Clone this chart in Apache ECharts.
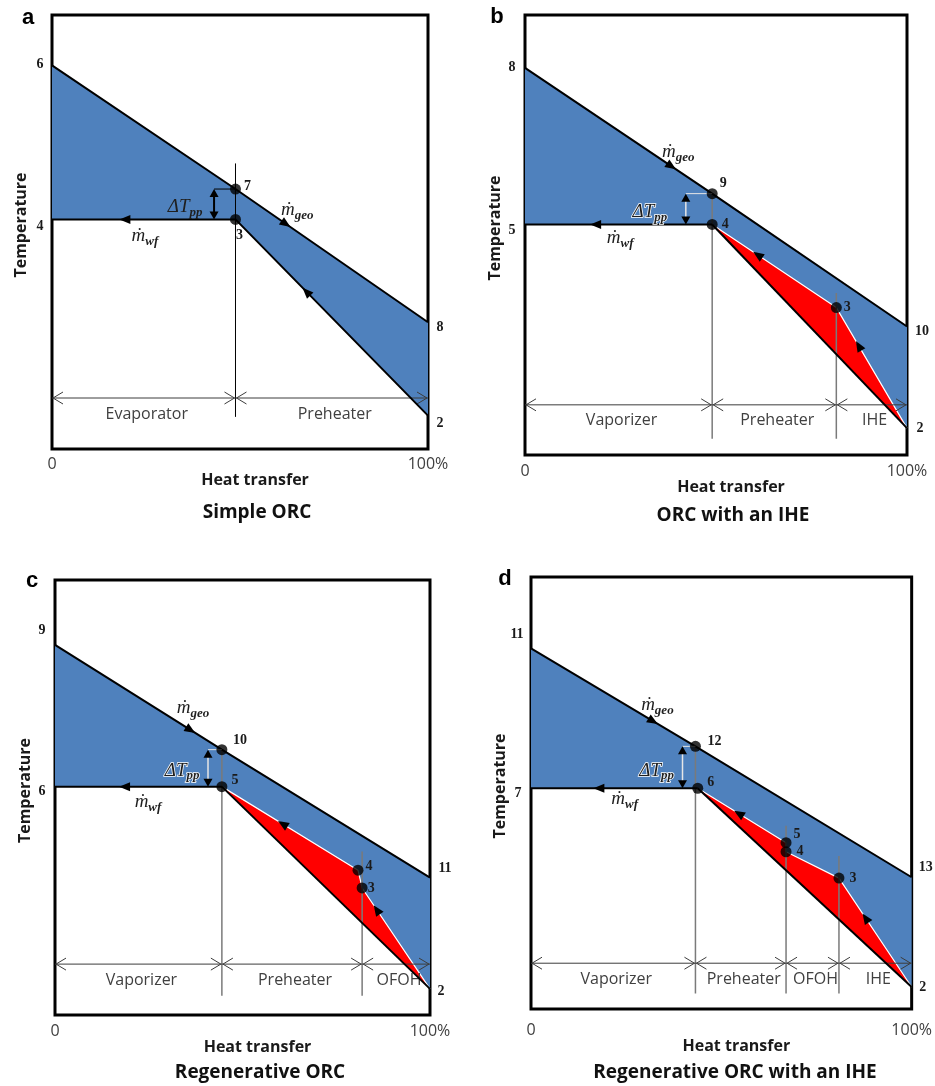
<!DOCTYPE html>
<html><head><meta charset="utf-8">
<script src="https://cdn.jsdelivr.net/npm/echarts@6/dist/echarts.min.js"></script>
<style>html,body{margin:0;padding:0;background:#fff}#c{width:935px;height:1086px}</style>
</head><body><div id="c"></div>
<script>
// ---------- DATA ----------
const panelLetters = ['a', 'b', 'c', 'd'];
const panelTitles = ['Simple ORC', 'ORC with an IHE', 'Regenerative ORC', 'Regenerative ORC with an IHE'];
const xTickLabels = ['0', '100%'];
const axisNames = ['Heat transfer', 'Temperature'];

// Panel a: Simple ORC
const geoA = [[0, 88.4], [48.8, 59.9], [100, 29.2]];
const geoNamesA = ['6', '7', '8'];
const wfA = [[0, 52.9], [48.8, 52.9], [100, 7.7]];
const wfNamesA = ['4', '3', '2'];
const sectionBoundsA = [0, 48.8, 100];
const sectionNamesA = ['Evaporator', 'Preheater'];
const dividerTopsA = [65.8];

// Panel b: ORC with an IHE
const geoB = [[0, 88.0], [49, 59.4], [100, 29.2]];
const geoNamesB = ['8', '9', '10'];
const wfB = [[0, 52.4], [49, 52.4], [81.5, 33.5], [100, 6.1]];
const wfNamesB = ['5', '4', '3', '2'];
const sectionBoundsB = [0, 49, 81.5, 100];
const sectionNamesB = ['Vaporizer', 'Preheater', 'IHE'];
const dividerTopsB = [59.4, 36.8];

// Panel c: Regenerative ORC
const geoC = [[0, 85.1], [44.5, 61.0], [100, 31.6]];
const geoNamesC = ['9', '10', '11'];
const wfC = [[0, 52.5], [44.5, 52.5], [80.8, 33.3], [81.9, 29.2], [100, 6.0]];
const wfNamesC = ['6', '5', '4', '3', '2'];
const sectionBoundsC = [0, 44.5, 81.9, 100];
const sectionNamesC = ['Vaporizer', 'Preheater', 'OFOH'];
const dividerTopsC = [61.0, 37.6];

// Panel d: Regenerative ORC with an IHE
const geoD = [[0, 83.5], [43.2, 60.8], [100, 30.5]];
const geoNamesD = ['11', '12', '13'];
const wfD = [[0, 51.1], [43.8, 51.1], [67, 38.5], [67, 36.4], [80.9, 30.3], [100, 5.1]];
const wfNamesD = ['7', '6', '5', '4', '3', '2'];
const sectionBoundsD = [0, 43.2, 67, 80.9, 100];
const sectionNamesD = ['Vaporizer', 'Preheater', 'OFOH', 'IHE'];
const dividerTopsD = [60.8, 42.4, 35.4];

// Flow direction arrows: [from point, to point, fraction along]
const flowsA = [[wfA[1], wfA[0], 0.6], [geoA[1], geoA[2], 0.26], [wfA[2], wfA[1], 0.63]];
const flowsB = [[wfB[1], wfB[0], 0.62], [geoB[0], geoB[1], 0.78], [wfB[2], wfB[1], 0.63], [wfB[3], wfB[2], 0.68]];
const flowsC = [[wfC[1], wfC[0], 0.58], [geoC[0], geoC[1], 0.81], [wfC[2], wfC[1], 0.55], [wfC[4], wfC[3], 0.78]];
const flowsD = [[wfD[1], wfD[0], 0.59], [geoD[0], geoD[1], 0.74], [wfD[2], wfD[1], 0.53], [wfD[5], wfD[4], 0.63]];

// ---------- LAYOUT ----------
const panels = [
  {geo: geoA, geoNames: geoNamesA, wf: wfA, wfNames: wfNamesA, bounds: sectionBoundsA, secNames: sectionNamesA, divTops: dividerTopsA, flows: flowsA, red: false},
  {geo: geoB, geoNames: geoNamesB, wf: wfB, wfNames: wfNamesB, bounds: sectionBoundsB, secNames: sectionNamesB, divTops: dividerTopsB, flows: flowsB, red: true},
  {geo: geoC, geoNames: geoNamesC, wf: wfC, wfNames: wfNamesC, bounds: sectionBoundsC, secNames: sectionNamesC, divTops: dividerTopsC, flows: flowsC, red: true},
  {geo: geoD, geoNames: geoNamesD, wf: wfD, wfNames: wfNamesD, bounds: sectionBoundsD, secNames: sectionNamesD, divTops: dividerTopsD, flows: flowsD, red: true}
];
const layout = [
  {g: [52, 15, 376, 434], spanY: 11.75, divBottom: 7.4, dtX: 43.1, mGeo: [65.2, 55.1], mWf: [24.7, 49.1], dT: [35.4, 55.8],
   letter: [28, 18], title: [257, 513], lblMargin: 7, nameGap: 15, tempGap: 23,
   offs: {'6': [-12, -1], '7': [12, -3], '8': [12, 5], '4': [-12, 7], '3': [4, 16], '2': [12, 8]}},
  {g: [525, 15, 382, 440], spanY: 11.4, divBottom: 3.7, dtX: 42.1, mGeo: [40.1, 68.9], mWf: [24.9, 49.3], dT: [32.7, 55.2],
   letter: [497, 17], title: [733, 516], lblMargin: 8, nameGap: 18, tempGap: 22,
   offs: {'8': [-13, 0], '9': [11, -10], '10': [15, 5], '5': [-13, 6], '4': [13, 0], '3': [11, 0], '2': [13, 0]}},
  {g: [55, 580, 375, 435], spanY: 11.7, divBottom: 4.4, dtX: 40.8, mGeo: [36.8, 70.6], mWf: [24.8, 49.0], dT: [33.9, 56.2],
   letter: [32, 581], title: [260, 1073], lblMargin: 8, nameGap: 16, tempGap: 22,
   offs: {'9': [-13, -14], '10': [18, -9], '11': [15, -9], '6': [-13, 5], '5': [13, -6], '4': [11, -4], '3': [9, 0], '2': [11, 2]}},
  {g: [531, 577, 382, 432], spanY: 10.6, divBottom: 3.6, dtX: 39.8, mGeo: [33.2, 70.4], mWf: [24.6, 48.5], dT: [33.0, 55.2],
   letter: [505, 579], title: [735, 1073], lblMargin: 13, nameGap: 21, tempGap: 23,
   offs: {'11': [-14, -14], '12': [19, -5], '13': [14, -10], '7': [-13, 5], '6': [13, -6], '5': [11, -8], '4': [14, 0], '3': [14, 0], '2': [11, 0]}}
];

const BLUE = '#4F81BD', RED = '#FF0000';
const SERIF = '"Liberation Serif","DejaVu Serif",serif';
const SANS = '"Open Sans","DejaVu Sans",sans-serif';

// ---------- BUILD ----------
const grids = [], xAxes = [], yAxes = [], series = [], graphics = [];

function base(i, z) { return {xAxisIndex: i, yAxisIndex: i, z: z, silent: true, animation: false}; }

function polygon(i, pts, color, z) {
  return Object.assign(base(i, z), {
    type: 'custom', data: pts,
    renderItem: (params, api) => params.dataIndex !== 0 ? null :
      {type: 'polygon', shape: {points: pts.map(p => api.coord(p))}, style: {fill: color}}
  });
}
function line(i, pts, color, width, z) {
  return Object.assign(base(i, z), {type: 'line', data: pts, symbol: 'none', lineStyle: {color: color, width: width}});
}

panels.forEach((P, i) => {
  const L = layout[i];
  grids.push({left: L.g[0], top: L.g[1], width: L.g[2], height: L.g[3], show: true, borderColor: '#000', borderWidth: 3, backgroundColor: 'transparent'});
  xAxes.push({type: 'value', gridIndex: i, min: 0, max: 100, interval: 100,
    axisLine: {show: false}, axisTick: {show: false}, splitLine: {show: false},
    axisLabel: {margin: L.lblMargin, color: '#404040', fontFamily: SANS, fontSize: 16, formatter: v => v === 0 ? xTickLabels[0] : xTickLabels[1]},
    name: axisNames[0], nameLocation: 'middle', nameGap: L.nameGap,
    nameTextStyle: {fontFamily: SANS, fontWeight: 'bold', fontSize: 16, color: '#1a1a1a', padding: [0, 0, 0, 30]}});
  yAxes.push({type: 'value', gridIndex: i, min: 0, max: 100,
    axisLine: {show: false}, axisTick: {show: false}, splitLine: {show: false}, axisLabel: {show: false},
    name: axisNames[1], nameLocation: 'middle', nameGap: L.tempGap,
    nameTextStyle: {fontFamily: SANS, fontWeight: 'bold', fontSize: 16, color: '#1a1a1a', padding: [0, 0, 0, 14]}});

  const geo = P.geo, wf = P.wf, n = wf.length;
  // blue region between geo and working-fluid curve
  series.push(polygon(i, geo.concat(wf.slice().reverse()), BLUE, 1));
  // red region (recuperated / regenerated heat)
  if (P.red) {
    series.push(polygon(i, wf.slice(1), RED, 2));
    series.push(line(i, wf.slice(1), '#ffffff', 1.2, 3));
  }
  // dividers
  P.divTops.forEach((top, k) => {
    const x = P.bounds[k + 1];
    series.push(line(i, [[x, top], [x, L.divBottom]], i === 0 ? '#000' : '#7a7a7a', i === 0 ? 1 : 1.5, 4));
  });
  // section span arrows + names
  const segs = P.secNames.map((nm, k) => [P.bounds[k], P.bounds[k + 1]]);
  series.push(Object.assign(base(i, 5), {
    type: 'custom', data: segs.map(s => [s[0], L.spanY, s[1]]),
    renderItem: (params, api) => {
      const s = segs[params.dataIndex];
      const p0 = api.coord([s[0], L.spanY]), p1 = api.coord([s[1], L.spanY]);
      const c = '#3c3c3c', st = {stroke: c, lineWidth: 1, fill: 'none'};
      return {type: 'group', children: [
        {type: 'line', shape: {x1: p0[0], y1: p0[1], x2: p1[0], y2: p1[1]}, style: st},
        {type: 'polyline', shape: {points: [[p0[0] + 11, p0[1] - 6], [p0[0] + 1, p0[1]], [p0[0] + 11, p0[1] + 6]]}, style: st},
        {type: 'polyline', shape: {points: [[p1[0] - 11, p1[1] - 6], [p1[0] - 1, p1[1]], [p1[0] - 11, p1[1] + 6]]}, style: st},
        {type: 'text', x: (p0[0] + p1[0]) / 2 + 3, y: p0[1] + 16,
         style: {text: P.secNames[params.dataIndex], font: '16px ' + SANS, fill: '#404040', align: 'center', verticalAlign: 'middle', textAlign: 'center', textVerticalAlign: 'middle'}}
      ]};
    }
  }));
  // main lines
  series.push(line(i, geo, '#000', 2, 6));
  if (P.red) {
    series.push(line(i, [wf[0], wf[1]], '#000', 2, 6));
    series.push(line(i, [wf[1], wf[n - 1]], '#000', 2, 6));
  } else {
    series.push(line(i, wf, '#000', 2, 6));
  }
  // pinch-point bracket (ΔT_pp)
  series.push(Object.assign(base(i, 7), {
    type: 'custom', data: [[L.dtX, geo[1][1]]],
    renderItem: (params, api) => {
      const top = api.coord([L.dtX, geo[1][1]]), bot = api.coord([L.dtX, wf[1][1]]), right = api.coord([geo[1][0], geo[1][1]]);
      const lc = i === 0 ? '#000' : '#e6e6e6';
      const h = 7, w = 4.5;
      return {type: 'group', children: [
        {type: 'line', shape: {x1: top[0], y1: top[1], x2: right[0], y2: right[1]}, style: {stroke: lc, lineWidth: 1}},
        {type: 'line', shape: {x1: top[0], y1: top[1] + h, x2: bot[0], y2: bot[1] - h}, style: {stroke: lc, lineWidth: i === 0 ? 2 : 1.5}},
        {type: 'polygon', shape: {points: [[top[0], top[1]], [top[0] - w, top[1] + h + 1], [top[0] + w, top[1] + h + 1]]}, style: {fill: '#000'}},
        {type: 'polygon', shape: {points: [[bot[0], bot[1]], [bot[0] - w, bot[1] - h - 1], [bot[0] + w, bot[1] - h - 1]]}, style: {fill: '#000'}}
      ]};
    }
  }));
  // flow arrows
  series.push(Object.assign(base(i, 8), {
    type: 'custom', data: P.flows.map(f => [f[0][0], f[0][1]]),
    renderItem: (params, api) => {
      const f = P.flows[params.dataIndex];
      const a = api.coord(f[0]), b = api.coord(f[1]);
      const dx = b[0] - a[0], dy = b[1] - a[1], len = Math.hypot(dx, dy), ux = dx / len, uy = dy / len;
      const px = a[0] + dx * f[2], py = a[1] + dy * f[2];
      return {type: 'polygon', shape: {points: [
        [px + ux * 6, py + uy * 6],
        [px - ux * 5 - uy * 4.5, py - uy * 5 + ux * 4.5],
        [px - ux * 5 + uy * 4.5, py - uy * 5 - ux * 4.5]]}, style: {fill: '#000'}};
    }
  }));
  // state-point dots
  const dots = [geo[1]].concat(wf.slice(1, n - 1));
  series.push(Object.assign(base(i, 9), {type: 'scatter', data: dots, symbol: 'circle', symbolSize: 11, itemStyle: {color: '#000'}}));
  // state-point numbers
  const pts = geo.map((p, k) => [p, P.geoNames[k]]).concat(wf.map((p, k) => [p, P.wfNames[k]]));
  series.push(Object.assign(base(i, 10), {
    type: 'custom', data: pts.map(q => q[0]),
    renderItem: (params, api) => {
      const q = pts[params.dataIndex];
      const c = api.coord(q[0]), o = L.offs[q[1]] || [10, 0];
      return {type: 'text', x: c[0] + o[0], y: c[1] + o[1],
        style: {text: q[1], font: 'bold 14px ' + SERIF, fill: '#1a1a1a', align: 'center', verticalAlign: 'middle', textAlign: 'center', textVerticalAlign: 'middle'}};
    }
  }));
  // flow and pinch annotations
  const fnt = (sz, b) => ({fontFamily: SERIF, fontStyle: 'italic', fontWeight: b ? 'bold' : 'normal', fontSize: sz});
  const tc = '#1f1f1f';
  const rich = {
    m: Object.assign(fnt(19, false), {lineHeight: 24, fill: tc, color: tc}),
    s: Object.assign(fnt(13, true), {lineHeight: 13, verticalAlign: 'bottom', fill: tc, color: tc})
  };
  const ann = [[L.mGeo, '{m|ṁ}{s|geo}'], [L.mWf, '{m|ṁ}{s|wf}'], [L.dT, '{m|ΔT}{s|pp}']];
  series.push(Object.assign(base(i, 11), {
    type: 'custom', data: ann.map(a => a[0]),
    renderItem: (params, api) => {
      const a = ann[params.dataIndex];
      const c = api.coord(a[0]);
      const st = {text: a[1], rich: rich, align: 'center', verticalAlign: 'middle', textAlign: 'center', textVerticalAlign: 'middle'};
      if (i > 0 && params.dataIndex === 2) { st.stroke = '#fff'; st.lineWidth = 1.5; }
      return {type: 'text', x: c[0], y: c[1], style: st};
    }
  }));

  graphics.push({type: 'text', x: L.letter[0], y: L.letter[1],
    style: {text: panelLetters[i], font: 'bold 22px "Liberation Sans",Arial,sans-serif', fill: '#000', align: 'center', verticalAlign: 'middle', textAlign: 'center', textVerticalAlign: 'middle'}});
  graphics.push({type: 'text', x: L.title[0], y: L.title[1],
    style: {text: panelTitles[i], font: 'bold 19px ' + SANS, fill: '#111', align: 'center', verticalAlign: 'middle', textAlign: 'center', textVerticalAlign: 'middle'}});
});

const chart = echarts.init(document.getElementById('c'));
chart.setOption({
  animation: false,
  backgroundColor: '#fff',
  grid: grids, xAxis: xAxes, yAxis: yAxes, series: series, graphic: graphics
});
</script>
</body></html>
